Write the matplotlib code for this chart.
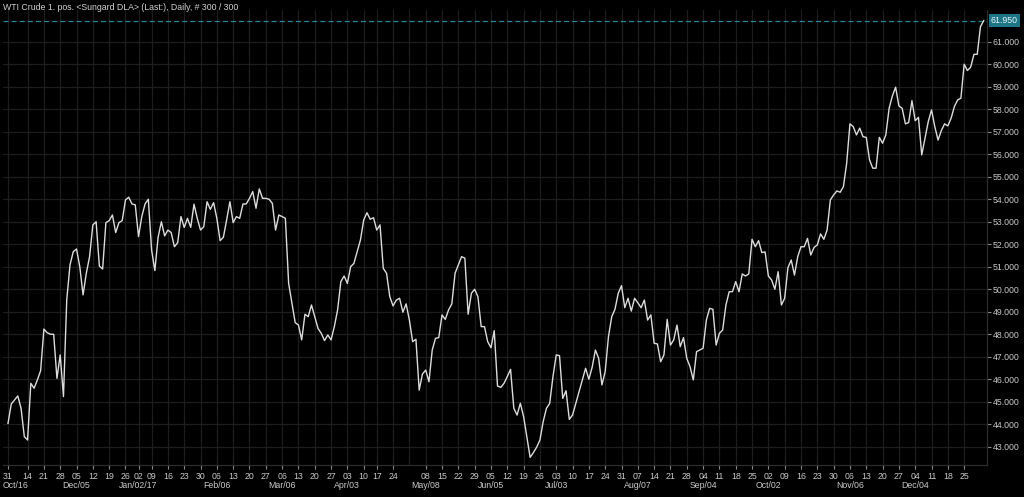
import numpy as np
import pandas as pd
import matplotlib
matplotlib.use('Agg')
import matplotlib.pyplot as plt
import matplotlib.transforms as mtransforms

plt.rcParams['font.family'] = ['Liberation Sans', 'DejaVu Sans']

# trading days (Globex calendar, only these days closed)
holidays = ['2016-12-26', '2017-01-02', '2017-04-14', '2017-12-25', '2018-01-01']
dates = pd.bdate_range('2016-11-04', '2018-01-04', freq='C', holidays=holidays)

# WTI front month, last price
prices = [
    44.05, 44.91, 45.09, 45.27, 44.72, 43.46, 43.31, 45.83, 45.61, 45.98,
    46.39, 48.24, 48.08, 48.01, 48.01, 46.05, 47.09, 45.24, 49.53, 51.09,
    51.68, 51.80, 51.01, 49.76, 50.72, 51.46, 52.87, 53.01, 51.04, 50.91,
    52.97, 53.06, 53.31, 52.53, 52.97, 53.06, 53.98, 54.10, 53.80, 53.76,
    52.35, 53.24, 53.80, 54.01, 51.76, 50.84, 52.32, 53.01, 52.38, 52.64,
    52.53, 51.90, 52.08, 53.24, 52.76, 53.16, 52.76, 53.79, 53.16, 52.64,
    52.79, 53.90, 53.56, 53.86, 53.16, 52.17, 52.32, 53.09, 53.90, 52.97,
    53.24, 53.16, 53.80, 53.80, 54.05, 54.35, 53.61, 54.47, 54.05, 54.05,
    54.01, 53.83, 52.64, 53.31, 53.24, 53.16, 50.27, 49.39, 48.53, 48.42,
    47.76, 48.90, 48.79, 49.31, 48.79, 48.27, 48.05, 47.73, 47.98,
    47.76, 48.35, 49.09, 50.35, 50.60, 50.27, 51.01, 51.16, 51.68, 52.20,
    53.09, 53.41, 53.12, 53.19, 52.64, 52.87, 50.94, 50.72, 49.68, 49.27,
    49.53, 49.61, 48.99, 49.36, 48.64, 47.68, 47.79, 45.53, 46.24, 46.42,
    45.90, 47.31, 47.83, 47.86, 48.87, 48.67, 49.09, 49.36, 50.72, 51.09,
    51.46, 51.39, 48.90, 49.83, 50.01, 49.68, 48.35, 48.35, 47.68, 47.41,
    48.17, 45.71, 45.65, 45.83, 46.13, 46.45, 44.72, 44.42, 44.94, 44.35,
    43.46, 42.54, 42.75, 42.99, 43.31, 44.13, 44.72, 44.94, 46.13, 47.09,
    47.06, 45.16, 45.50, 44.23, 44.42, 44.94, 45.46, 45.98, 46.50, 46.01,
    46.54, 47.31, 46.94, 45.76, 46.35, 47.90, 48.79, 49.12, 49.83, 50.17,
    49.19, 49.61, 49.04, 49.61, 49.41, 49.19, 49.53, 48.64,
    48.87, 47.61, 47.58, 46.79, 47.09, 48.67, 47.53, 47.76, 48.42, 47.46,
    47.86, 46.94, 46.57, 45.98, 47.24, 47.31, 47.39, 48.64, 49.16, 49.12,
    47.53, 48.05, 48.20, 49.31, 49.90, 49.90, 50.35, 49.90, 50.69, 50.60,
    50.69, 52.23, 51.90, 52.17, 51.64, 51.67, 50.60, 50.42, 50.01, 50.79,
    49.31, 49.61, 50.97, 51.31, 50.64, 51.46, 51.90, 51.90, 52.27, 51.53,
    51.87, 51.98, 52.47, 52.23, 52.64, 53.98, 54.20, 54.38, 54.32, 54.57,
    55.61, 57.36, 57.24, 56.87, 57.17, 56.79, 56.76, 55.76, 55.39, 55.39,
    56.76, 56.50, 56.87, 58.05, 58.60, 58.99, 58.16, 58.05, 57.36, 57.42,
    58.39, 57.50, 57.65, 55.98, 56.72, 57.46, 57.98, 57.24, 56.64, 57.06,
    57.36, 57.27, 57.61, 58.13, 58.42, 58.50, 60.01, 59.73, 59.88, 60.45,
    60.45, 61.68, 61.95,
]
last_price = 61.95

title = 'WTI Crude 1. pos. <Sungard DLA> (Last:), Daily, # 300 / 300'
yticks = np.arange(43, 62)
mondays = pd.date_range('2016-10-31', '2017-12-25', freq='W-MON')
no_label = [pd.Timestamp('2016-11-07'), pd.Timestamp('2017-05-01')]

month_days = ['2016-10-31', '2016-12-05', '2017-01-02', '2017-02-06', '2017-03-06',
              '2017-04-03', '2017-05-08', '2017-06-05', '2017-07-03', '2017-08-07',
              '2017-09-04', '2017-10-02', '2017-11-06', '2017-12-04']
month_names = ['Oct/16', 'Dec/05', 'Jan/02/17', 'Feb/06', 'Mar/06', 'Apr/03', 'May/08',
               'Jun/05', 'Jul/03', 'Aug/07', 'Sep/04', 'Oct/02', 'Nov/06', 'Dec/04']

txt = '#c8c8c8'
grid = '#1d1d1d'

fig = plt.figure(figsize=(10.24, 4.97), dpi=100, facecolor='black')
ax = fig.add_axes([3 / 1024, 32 / 497, 984 / 1024, 455 / 497])
ax.set_facecolor('black')

x = np.arange(len(prices))
ax.set_xlim(-1.53, 300)
ax.set_ylim(42.2, 62.42)

# grid
for v in yticks:
    ax.axhline(v, color=grid, lw=0.9, zorder=0)
week_pos = np.searchsorted(dates.values, mondays.values)
for m, p in zip(mondays, week_pos):
    if m != pd.Timestamp('2016-11-07'):
        ax.axvline(p, color=grid, lw=0.9, zorder=0)

ax.plot(x, prices, color='#dcdcdc', lw=1.0, zorder=3)

# last price line + box
ax.axhline(last_price, color='#2a8797', lw=0.9, ls=(0, (4, 2.5)), zorder=2)
tr = mtransforms.blended_transform_factory(ax.transAxes, ax.transData)
ax.text(1.004, last_price, '%.3f' % last_price, transform=tr, ha='left', va='center',
        fontsize=6.3, color='#e6f6f8',
        bbox=dict(boxstyle='square,pad=0.2', fc='#1d7586', ec='none'))

# x ticks: weekly, day numbers
lab_pos = [p for m, p in zip(mondays, week_pos) if m not in no_label]
lab_txt = [m.strftime('%d') for m in mondays if m not in no_label]
ax.set_xticks(lab_pos)
ax.set_xticklabels(lab_txt)
ax.tick_params(axis='x', colors='#8a8a8a', length=3, width=0.8, pad=2,
               labelsize=6.3, labelcolor=txt)

# month labels under the first week of each month
xt = ax.get_xaxis_transform()
month_pos = np.searchsorted(dates.values, pd.to_datetime(month_days).values)
for i, (p, s) in enumerate(zip(month_pos, month_names)):
    if i == 0:
        ax.text(-1.5, -0.046, s, transform=xt, ha='left', va='center', fontsize=6.3, color=txt)
    else:
        ax.text(p, -0.046, s, transform=xt, ha='center', va='center', fontsize=6.3, color=txt)

# y axis on the right
ax.yaxis.tick_right()
ax.set_yticks(yticks)
ax.set_yticklabels(['%.3f' % v for v in yticks])
ax.tick_params(axis='y', colors='#8a8a8a', length=3, width=0.8, pad=1,
               labelsize=6.3, labelcolor=txt)

for s in ['left', 'top']:
    ax.spines[s].set_visible(False)
for s in ['right', 'bottom']:
    ax.spines[s].set_color('#2c2c2c')
    ax.spines[s].set_linewidth(0.9)

fig.text(3 / 1024, 1 - 8 / 497, title, fontsize=6.3, color='#d0d0d0', va='center', ha='left')

fig.savefig('out.png', dpi=100, facecolor='black')
